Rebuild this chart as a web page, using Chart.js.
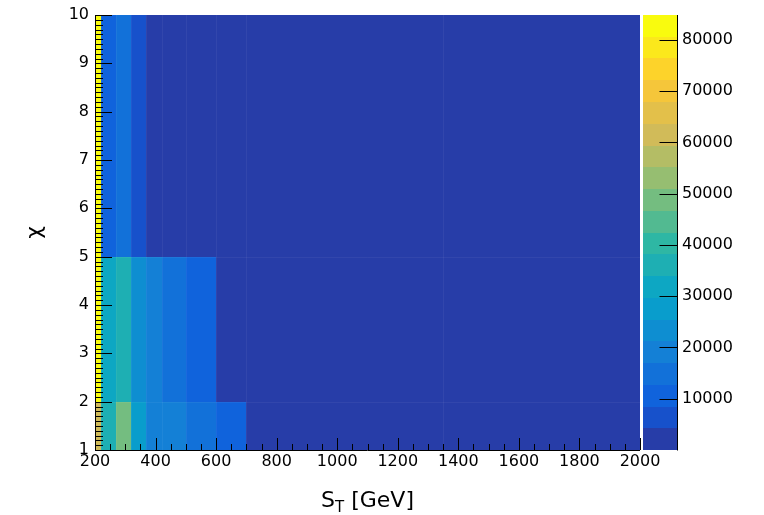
<!DOCTYPE html>
<html>
<head>
<meta charset="utf-8">
<script src="https://cdn.jsdelivr.net/npm/chart.js@4/dist/chart.umd.min.js"></script>
<style>
  body { margin: 0; background: #fff; }
  #wrap { width: 764px; height: 515px; position: relative; }
</style>
</head>
<body>
<div id="wrap"><canvas id="myChart"></canvas></div>
<script>
// S_T bin edges [GeV] and chi bin edges
const stEdges = [200, 220, 270, 320, 370, 420, 500, 600, 700, 1350, 2000];
const chiEdges = [1, 2, 5, 10];

// bin contents, one array per chi row, left to right in S_T
const chi1to2 = [61000, 36000, 49000, 28000, 19500, 17000, 13500, 10000, 1500, 800];
const chi2to5 = [84500, 32000, 38000, 25000, 19000, 15000, 11000, 2500, 1200, 600];
const chi5to10 = [84500, 10500, 14800, 6500, 3000, 2000, 1500, 1000, 600, 300];
const rows = [chi1to2, chi2to5, chi5to10];

// tick labels
const xTicks = [200, 400, 600, 800, 1000, 1200, 1400, 1600, 1800, 2000];
const yTicks = [1, 2, 3, 4, 5, 6, 7, 8, 9, 10];
const zTicks = [10000, 20000, 30000, 40000, 50000, 60000, 70000, 80000];

// colour axis range and number of contours
const zMax = 84850;
const nContours = 20;

// ROOT "bird" palette
const birdStops = [0.0000, 0.1250, 0.2500, 0.3750, 0.5000, 0.6250, 0.7500, 0.8750, 1.0000];
const birdR = [0.2082, 0.0592, 0.0780, 0.0232, 0.1802, 0.5301, 0.8186, 0.9956, 0.9764];
const birdG = [0.1664, 0.3599, 0.5041, 0.6419, 0.7178, 0.7492, 0.7328, 0.7862, 0.9832];
const birdB = [0.5293, 0.8684, 0.8385, 0.7914, 0.6425, 0.4662, 0.3499, 0.1968, 0.0539];

const FONT = '"DejaVu Sans", "Liberation Sans", Arial, sans-serif';

const bird = (t) => {
    let k = 0;
    while (k < birdStops.length - 2 && t > birdStops[k + 1]) k++;
    const f = (t - birdStops[k]) / (birdStops[k + 1] - birdStops[k]);
    const c = (arr) => Math.round(255 * (arr[k] + f * (arr[k + 1] - arr[k])));
    return `rgb(${c(birdR)},${c(birdG)},${c(birdB)})`;
};

// same level -> colour mapping as ROOT's COLZ
const zColor = (v) => {
    let band = Math.floor(v / (zMax / nContours));
    band = Math.max(0, Math.min(nContours - 1, band));
    const idx = Math.floor((band + 0.99) * 255 / nContours);
    return bird(idx / 254);
};

// one point per cell (centre), the cells themselves are painted by the plugin
const cellPoints = [];
rows.forEach((row, j) => {
    row.forEach((v, i) => {
        cellPoints.push({
            x: (stEdges[i] + stEdges[i + 1]) / 2,
            y: (chiEdges[j] + chiEdges[j + 1]) / 2,
            v: v,
            x0: stEdges[i], x1: stEdges[i + 1],
            y0: chiEdges[j], y1: chiEdges[j + 1]
        });
    });
});

const heatmap = {
    id: 'heatmap',
    beforeDatasetsDraw(chart) {
        const { ctx, chartArea: a, scales: { x, y, z } } = chart;
        ctx.save();
        chart.data.datasets[0].data.forEach(p => {
            const px0 = Math.round(x.getPixelForValue(p.x0));
            const px1 = Math.round(x.getPixelForValue(p.x1));
            const py0 = Math.round(y.getPixelForValue(p.y1));
            const py1 = Math.round(y.getPixelForValue(p.y0));
            ctx.fillStyle = zColor(p.v);
            ctx.fillRect(px0, py0, px1 - px0, py1 - py0);
        });
        // faint seams between the cells
        ctx.strokeStyle = 'rgba(255,255,255,0.05)';
        ctx.lineWidth = 1;
        ctx.beginPath();
        stEdges.slice(1, -1).forEach(e => {
            const px = Math.round(x.getPixelForValue(e)) + 0.5;
            ctx.moveTo(px, a.top); ctx.lineTo(px, a.bottom);
        });
        chiEdges.slice(1, -1).forEach(e => {
            const py = Math.round(y.getPixelForValue(e)) + 0.5;
            ctx.moveTo(a.left, py); ctx.lineTo(a.right, py);
        });
        ctx.stroke();

        // colour bar
        const bw = zMax / nContours;
        for (let k = 0; k < nContours; k++) {
            const t0 = Math.round(z.getPixelForValue(k * bw));
            const t1 = Math.round(z.getPixelForValue((k + 1) * bw));
            ctx.fillStyle = zColor((k + 0.5) * bw);
            ctx.fillRect(Math.round(a.right) + 3, t1, 34, t0 - t1);
        }
        ctx.restore();
    },
    afterDatasetsDraw(chart) {
        const { ctx, chartArea: a, scales: { x, y, z } } = chart;
        ctx.save();
        ctx.strokeStyle = '#000';
        ctx.lineWidth = 1;
        ctx.beginPath();
        // x ticks, drawn inside the frame
        for (let v = x.min; v <= x.max + 1e-6; v += 50) {
            const px = Math.round(x.getPixelForValue(v)) + 0.5;
            const len = (v % 200 === 0) ? 12 : 6;
            ctx.moveTo(px, a.bottom); ctx.lineTo(px, a.bottom - len);
        }
        // y ticks
        for (let k = 0; k <= (y.max - y.min) * 10; k++) {
            const v = y.min + k / 10;
            const py = Math.round(y.getPixelForValue(v)) + 0.5;
            const len = (k % 10 === 0) ? 17 : 8;
            ctx.moveTo(a.left, py); ctx.lineTo(a.left + len, py);
        }
        // colour axis ticks
        const zx = Math.round(a.right) + 37.5;
        zTicks.forEach(v => {
            const py = Math.round(z.getPixelForValue(v)) + 0.5;
            ctx.moveTo(zx, py); ctx.lineTo(zx - 18, py);
        });
        // axis lines
        ctx.moveTo(a.left + 0.5, a.top); ctx.lineTo(a.left + 0.5, a.bottom + 0.5);
        ctx.moveTo(a.left, a.bottom + 0.5); ctx.lineTo(a.right, a.bottom + 0.5);
        ctx.moveTo(zx, a.top); ctx.lineTo(zx, a.bottom + 0.5);
        ctx.stroke();

        // axis titles
        ctx.fillStyle = '#000';
        ctx.save();
        ctx.translate(35, (a.top + a.bottom) / 2);
        ctx.rotate(-Math.PI / 2);
        ctx.font = '22px ' + FONT;
        ctx.textAlign = 'center';
        ctx.textBaseline = 'middle';
        ctx.fillText('χ', 0, 0);
        ctx.restore();

        const big = '22px ' + FONT, small = '15px ' + FONT;
        ctx.textBaseline = 'alphabetic';
        ctx.textAlign = 'left';
        ctx.font = big;
        const wS = ctx.measureText('S').width;
        const wRest = ctx.measureText(' [GeV]').width;
        ctx.font = small;
        const wT = ctx.measureText('T').width;
        let tx = (a.left + a.right) / 2 - (wS + wT + wRest) / 2;
        const base = 507;
        ctx.font = big;
        ctx.fillText('S', tx, base);
        ctx.font = small;
        ctx.fillText('T', tx + wS, base + 5);
        ctx.font = big;
        ctx.fillText(' [GeV]', tx + wS + wT, base);
        ctx.restore();
    }
};

const tickFont = { family: FONT, size: 16 };

new Chart(document.getElementById('myChart'), {
    type: 'scatter',
    data: {
        datasets: [{
            label: 'entries',
            data: cellPoints,
            pointRadius: 0,
            pointHoverRadius: 0
        }]
    },
    options: {
        responsive: true,
        maintainAspectRatio: false,
        animation: false,
        layout: { padding: { top: 15, left: 0, right: 0, bottom: 0 } },
        plugins: {
            legend: { display: false },
            tooltip: { enabled: false }
        },
        scales: {
            x: {
                type: 'linear',
                position: 'bottom',
                min: 200,
                max: 2000,
                afterBuildTicks: s => { s.ticks = xTicks.map(v => ({ value: v })); },
                afterFit: s => { s.height = 65; },
                ticks: {
                    autoSkip: false,
                    maxRotation: 0,
                    padding: 2,
                    color: '#000',
                    font: tickFont,
                    callback: v => String(v)
                },
                grid: { display: false, drawTicks: false },
                border: { display: false }
            },
            y: {
                type: 'linear',
                position: 'left',
                min: 1,
                max: 10,
                afterBuildTicks: s => { s.ticks = yTicks.map(v => ({ value: v })); },
                afterFit: s => { s.width = 95; s.paddingTop = 0; s.paddingBottom = 0; },
                ticks: {
                    padding: 6,
                    color: '#000',
                    font: tickFont,
                    callback: v => String(v)
                },
                grid: { display: false, drawTicks: false },
                border: { display: false }
            },
            z: {
                type: 'linear',
                axis: 'y',
                position: 'right',
                min: 0,
                max: zMax,
                afterBuildTicks: s => { s.ticks = zTicks.map(v => ({ value: v })); },
                afterFit: s => { s.width = 124; s.paddingTop = 0; s.paddingBottom = 0; },
                ticks: {
                    padding: 2,
                    color: '#000',
                    font: tickFont,
                    callback: v => String(v)
                },
                grid: { display: false, drawTicks: true, tickLength: 40 },
                border: { display: false }
            }
        }
    },
    plugins: [heatmap]
});
</script>
</body>
</html>
